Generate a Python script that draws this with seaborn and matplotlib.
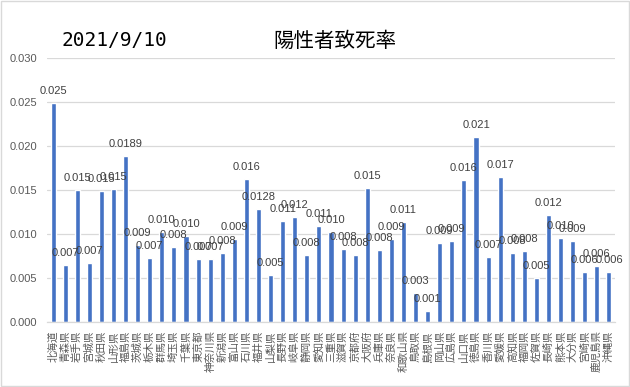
import matplotlib
matplotlib.use("Agg")
import matplotlib.pyplot as plt
import seaborn as sns
from matplotlib.patches import Rectangle

# 都道府県ごとの陽性者致死率 (2021/9/10)
prefs = ['北海道', '青森県', '岩手県', '宮城県', '秋田県', '山形県', '福島県',
         '茨城県', '栃木県', '群馬県', '埼玉県', '千葉県', '東京都', '神奈川県',
         '新潟県', '富山県', '石川県', '福井県', '山梨県', '長野県', '岐阜県',
         '静岡県', '愛知県', '三重県', '滋賀県', '京都府', '大阪府', '兵庫県',
         '奈良県', '和歌山県', '鳥取県', '島根県', '岡山県', '広島県', '山口県',
         '徳島県', '香川県', '愛媛県', '高知県', '福岡県', '佐賀県', '長崎県',
         '熊本県', '大分県', '宮崎県', '鹿児島県', '沖縄県']
rates = [0.0249, 0.0065, 0.0150, 0.0067, 0.0149, 0.0151, 0.0189,
         0.0088, 0.0073, 0.0102, 0.0085, 0.0098, 0.0072, 0.0072,
         0.0078, 0.0094, 0.0163, 0.0128, 0.0053, 0.0115, 0.0119,
         0.0076, 0.0109, 0.0102, 0.0083, 0.0076, 0.0152, 0.0082,
         0.0094, 0.0114, 0.0033, 0.0013, 0.0090, 0.0092, 0.0161,
         0.0210, 0.0074, 0.0165, 0.0078, 0.0081, 0.0050, 0.0122,
         0.0095, 0.0092, 0.0057, 0.0064, 0.0057]
label_text = ['0.025', '0.007', '0.015', '0.007', '0.015', '0.015', '0.0189',
              '0.009', '0.007', '0.010', '0.008', '0.010', '0.007', '0.007',
              '0.008', '0.009', '0.016', '0.0128', '0.005', '0.011', '0.012',
              '0.008', '0.011', '0.010', '0.008', '0.008', '0.015', '0.008',
              '0.009', '0.011', '0.003', '0.001', '0.009', '0.009', '0.016',
              '0.021', '0.007', '0.017', '0.008', '0.008', '0.005', '0.012',
              '0.010', '0.009', '0.006', '0.006', '0.006']
y_ticks = [0.000, 0.005, 0.010, 0.015, 0.020, 0.025, 0.030]

sns.set_theme(style="whitegrid")
plt.rcParams['font.family'] = ['Liberation Sans', 'Noto Sans CJK JP', 'DejaVu Sans']

fig = plt.figure(figsize=(6.3, 3.87), dpi=100)
ax = fig.add_axes([47 / 630, 1 - 322 / 387, (615 - 47) / 630, (322 - 58) / 387])

sns.barplot(x=prefs, y=rates, color='#4472C4', saturation=1, width=0.42, ax=ax)

# データラベル
ax.bar_label(ax.containers[0], labels=label_text, padding=5, fontsize=8, color='#404040')

ax.set_xlim(-0.5, len(prefs) - 0.5)
ax.set_ylim(0, 0.030)
ax.set_yticks(y_ticks)
ax.set_yticklabels([f'{v:.3f}' for v in y_ticks])
ax.set_xticks(range(len(prefs)))
ax.set_xticklabels(prefs, rotation=90, va='top', ha='center',
                   family=['Noto Sans CJK JP', 'DejaVu Sans'])
ax.tick_params(axis='y', length=0, pad=7, labelsize=8, labelcolor='#595959')
ax.tick_params(axis='x', length=0, pad=6, labelsize=7.6, labelcolor='#595959')
ax.set_xlabel('')
ax.set_ylabel('')

ax.grid(axis='y', color='#D9D9D9', linewidth=0.9)
ax.grid(axis='x', visible=False)
for side in ['left', 'right', 'top']:
    ax.spines[side].set_visible(False)
ax.spines['bottom'].set_color('#D9D9D9')
ax.spines['bottom'].set_linewidth(0.9)
ax.set_axisbelow(True)

# タイトル
fig.text(114 / 630, 1 - 40 / 387, '2021/9/10', fontsize=14, ha='center', va='center',
         family='DejaVu Sans Mono', color='black')
fig.text(335 / 630, 1 - 41 / 387, '陽性者致死率', fontsize=14.8, ha='center', va='center',
         family=['Noto Sans CJK JP'], color='black')

# グラフ枠
fig.patches.append(Rectangle((0.001, 0.002), 0.997, 0.995, transform=fig.transFigure,
                             fill=False, edgecolor='#D9D9D9', linewidth=1))

fig.savefig('out.png', dpi=100)
